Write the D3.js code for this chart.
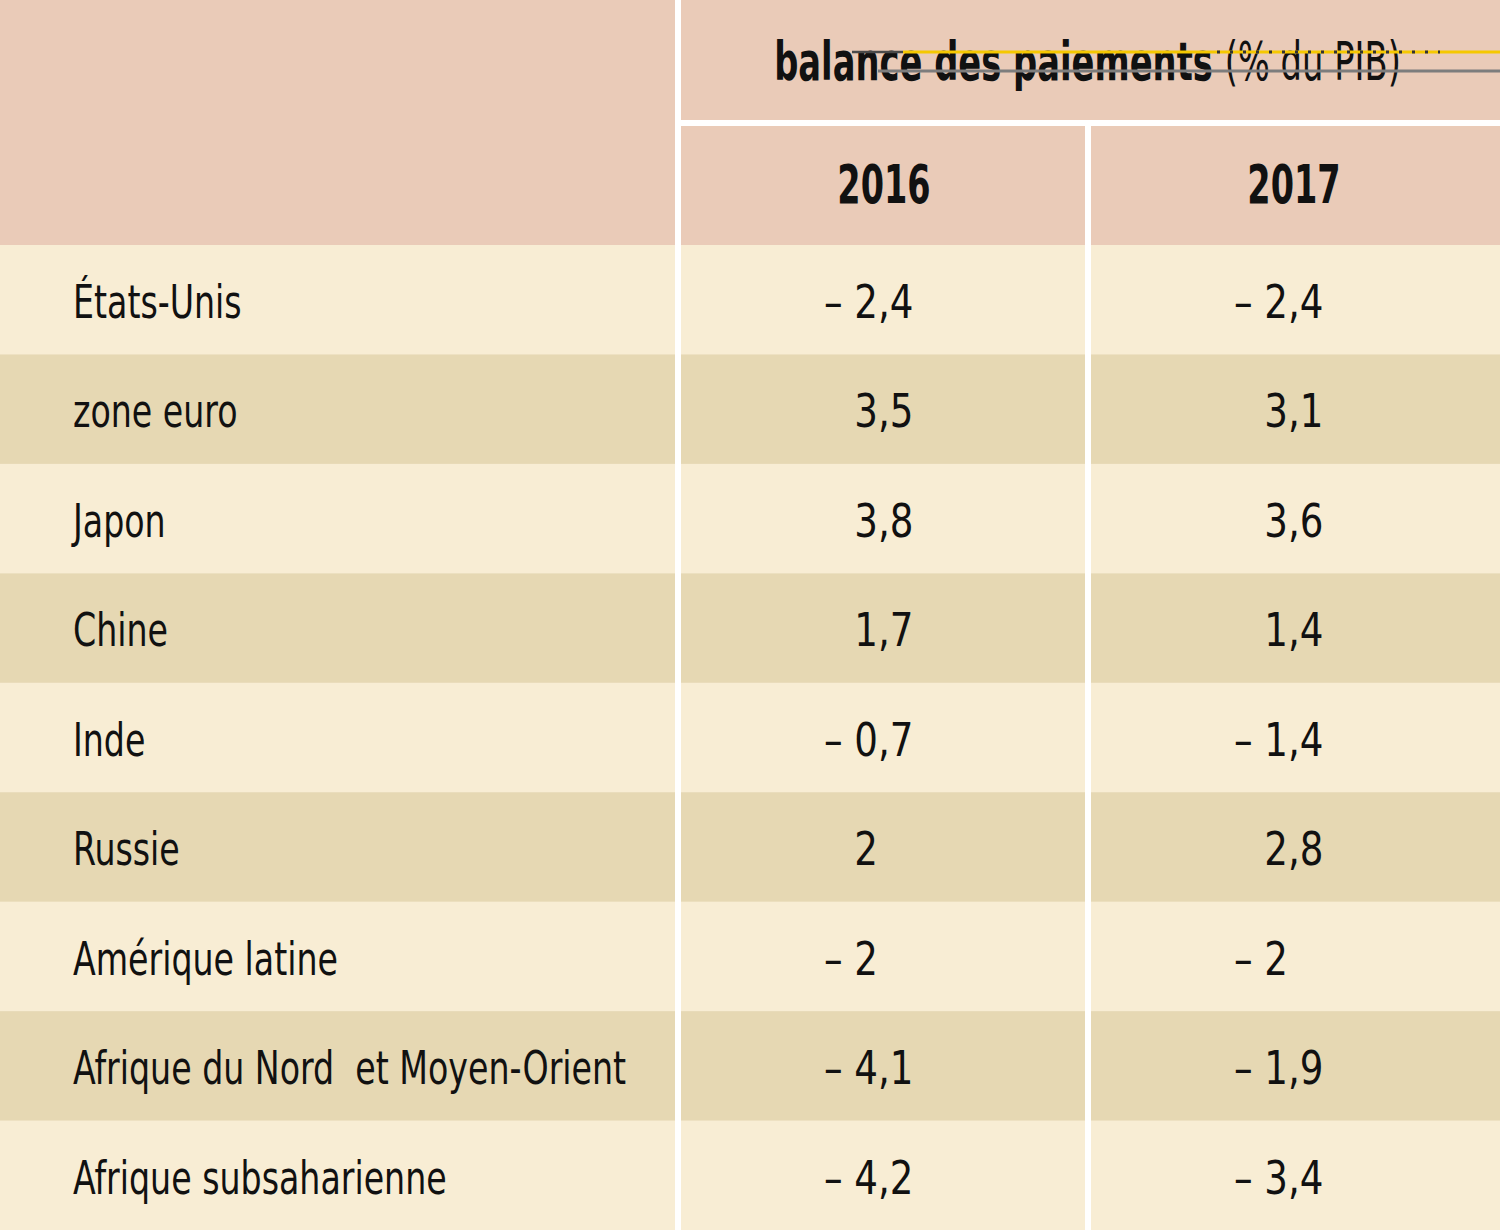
<!DOCTYPE html>
<html>
<head>
<meta charset="utf-8">
<script src="https://cdn.jsdelivr.net/npm/d3@7"></script>
<style>
html,body{margin:0;padding:0;background:#fff;}
svg{display:block;}
text{font-family:"Liberation Sans Narrow","DejaVu Sans Condensed","Roboto Condensed",sans-serif;fill:#111;white-space:pre;}
</style>
</head>
<body>
<svg id="chart" width="1500" height="1230"></svg>
<script>
const title = "balance des paiements";
const titleUnit = "(% du PIB)";
const years = ["2016", "2017"];
const categories = ["États-Unis", "zone euro", "Japon", "Chine", "Inde", "Russie", "Amérique latine", "Afrique du Nord  et Moyen-Orient", "Afrique subsaharienne"];
const values2016 = [-2.4, 3.5, 3.8, 1.7, -0.7, 2, -2, -4.1, -4.2];
const values2017 = [-2.4, 3.1, 3.6, 1.4, -1.4, 2.8, -2, -1.9, -3.4];

const W = 1500, H = 1230;
const headerH = 245, titleH = 120, gap = 6;
const labelColW = 675;
const colors = {header: "#EACBB8", light: "#F8EDD4", dark: "#E6D8B3"};

const svg = d3.select("#chart");
svg.append("rect").attr("width", W).attr("height", H).attr("fill", "#fff");

const y = d3.scaleBand().domain(categories).range([headerH, H]).paddingInner(0);
const x = d3.scaleBand().domain(years).range([labelColW + gap, W + 1]).paddingInner(0);
const colW = x.bandwidth() - gap;

// condensed text helper (horizontal scaling to mimic a condensed face)
function ctext(parent, tx, ty, sx, size, anchor, weight) {
  return parent.append("text")
    .attr("transform", `translate(${tx},${ty}) scale(${sx},1)`)
    .attr("text-anchor", anchor || "start")
    .attr("font-size", size)
    .attr("font-weight", weight || "normal");
}

// header backgrounds
svg.append("rect").attr("x", 0).attr("y", 0).attr("width", labelColW).attr("height", headerH).attr("fill", colors.header);
svg.append("rect").attr("x", labelColW + gap).attr("y", 0).attr("width", W - labelColW - gap).attr("height", titleH).attr("fill", colors.header);
svg.selectAll("rect.yearbg").data(years).enter().append("rect")
  .attr("class", "yearbg")
  .attr("x", d => x(d)).attr("y", titleH + gap)
  .attr("width", (d, j) => j === years.length - 1 ? W - x(d) : colW)
  .attr("height", headerH - titleH - gap)
  .attr("fill", colors.header);

// rows
const rows = svg.selectAll("g.row").data(categories).enter().append("g").attr("class", "row");
rows.append("rect").attr("x", 0).attr("y", d => y(d)).attr("width", labelColW).attr("height", y.bandwidth() + 0.5)
  .attr("fill", (d, i) => i % 2 ? colors.dark : colors.light);
years.forEach((yr, j) => {
  rows.append("rect").attr("x", x(yr)).attr("y", d => y(d))
    .attr("width", j === years.length - 1 ? W - x(yr) : colW)
    .attr("height", y.bandwidth() + 0.5)
    .attr("fill", (d, i) => i % 2 ? colors.dark : colors.light);
});

const baseOff = 73;
categories.forEach(c => {
  ctext(svg, 73, y(c) + baseOff, 0.786, 47).text(c);
});

function fmtParts(v) {
  const neg = v < 0;
  const a = Math.abs(v);
  const s = (Math.round(a * 10) / 10).toString().split(".");
  return {intPart: (neg ? "– " : "") + s[0], decPart: s.length > 1 ? "," + s[1] : ""};
}
const alignOff = 197; // integer right edge relative to column start
[values2016, values2017].forEach((vals, j) => {
  const yr = years[j];
  const ax = x(yr) + alignOff;
  categories.forEach((c, i) => {
    const p = fmtParts(vals[i]);
    ctext(svg, ax, y(c) + baseOff, 0.88, 47, "end").text(p.intPart);
    if (p.decPart) ctext(svg, ax, y(c) + baseOff, 0.88, 47, "start").text(p.decPart);
  });
});

// year headers
years.forEach(yr => {
  ctext(svg, x(yr) + colW / 2 + 1, 203, 0.69, 54, "middle", "bold").text(yr);
});

// title
const t = ctext(svg, (labelColW + gap + W) / 2 - 3, 80, 0.695, 54, "middle");
t.append("tspan").attr("font-weight", "bold").text(title + " ");
t.append("tspan").attr("font-weight", "normal").text(titleUnit);

// stray overlay lines in header
svg.append("line").attr("x1", 852).attr("x2", 903).attr("y1", 52).attr("y2", 52).attr("stroke", "#4a4a4a").attr("stroke-width", 2.5);
svg.append("line").attr("x1", 903).attr("x2", W).attr("y1", 52).attr("y2", 52).attr("stroke", "#F5C800").attr("stroke-width", 3);
svg.append("line").attr("x1", 1217).attr("x2", 1440).attr("y1", 52).attr("y2", 52).attr("stroke", "#333").attr("stroke-width", 3).attr("stroke-dasharray", "3,10");
svg.append("line").attr("x1", 878).attr("x2", W).attr("y1", 71).attr("y2", 71).attr("stroke", "#7d7d7d").attr("stroke-width", 3);
</script>
</body>
</html>
